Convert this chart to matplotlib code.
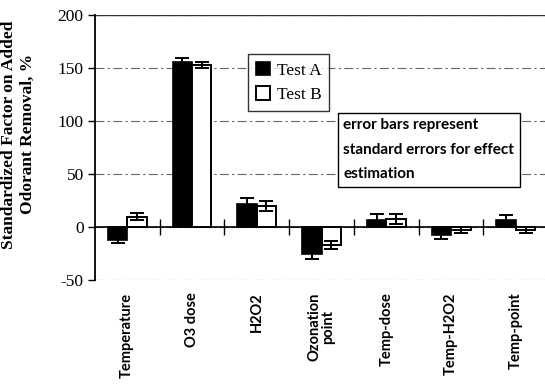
import numpy as np
import matplotlib.pyplot as plt

categories = ["Temperature", "O3 dose", "H2O2", "Ozonation\npoint",
              "Temp-dose", "Temp-H2O2", "Temp-point"]
test_a = [-12, 156, 22, -25, 7, -7, 7]
test_a_err = [3, 4, 5, 5, 5, 4.5, 4.5]
test_b = [10, 153, 20, -17, 7.5, -3, -3]
test_b_err = [3.5, 3, 4.5, 3.5, 4.5, 3, 3]
yticks = [-50, 0, 50, 100, 150, 200]

serif = "Liberation Serif"
sans = "Lato"

fig = plt.figure(figsize=(5.45, 3.89), dpi=100)
ax = fig.add_axes([0.174, 0.28, 0.826, 0.681])

x = np.arange(len(categories))
w = 0.3
err_kw = dict(ecolor="black", elinewidth=1.4, capsize=5, capthick=1.4)
ax.bar(x - w / 2, test_a, w, yerr=test_a_err, color="black",
       edgecolor="black", linewidth=1.2, label="Test A", error_kw=err_kw, zorder=3)
ax.bar(x + w / 2, test_b, w, yerr=test_b_err, color="white",
       edgecolor="black", linewidth=1.4, label="Test B", error_kw=err_kw, zorder=3)

ax.set_xlim(-0.5, 6.45)
ax.set_ylim(-50, 200)
ax.set_yticks(yticks)
ax.set_yticklabels([str(v) for v in yticks], fontfamily=serif, fontsize=12.5)
ax.tick_params(axis="y", direction="out", length=5, width=1, pad=3)

ax.set_xticks(x)
ax.set_xticklabels(categories, rotation=90, fontfamily=sans, fontweight="bold",
                   fontsize=10.5, va="top", ha="center", linespacing=1.0)
ax.tick_params(axis="x", length=0, pad=9)

for s in ["top", "right", "bottom"]:
    ax.spines[s].set_visible(False)
ax.spines["left"].set_linewidth(1.3)

ax.yaxis.grid(True, linestyle=(0, (8, 3, 2, 3)), color="#666666", linewidth=0.8)
ax.set_axisbelow(True)
ax.axhline(0, color="black", linewidth=1.2, zorder=2)
ax.axhline(200, color="#333333", linewidth=1.0, zorder=2)

# zero line with category separator ticks
zero_frac = (0 - yticks[0]) / (yticks[-1] - yticks[0])
sec = ax.secondary_xaxis(zero_frac)
sec.spines["bottom"].set_visible(False)
sec.set_xticks(x[:-1] + 0.5)
sec.tick_params(direction="inout", length=11, width=1, labelbottom=False)

ax.set_ylabel("Standardized Factor on Added\nOdorant Removal, %", fontfamily=serif,
              fontweight="bold", fontsize=12.5, linespacing=1.2)
ax.yaxis.set_label_coords(-0.132, 0.55)

leg = ax.legend(loc="upper left", bbox_to_anchor=(0.34, 0.853), borderaxespad=0,
                frameon=True, fancybox=False, edgecolor="black",
                prop={"family": serif, "size": 12.5}, handlelength=0.8,
                handleheight=0.8, handletextpad=0.4, labelspacing=0.45,
                borderpad=0.45)
leg.get_frame().set_linewidth(1.0)

ax.text(0.552, 0.61, "error bars represent\nstandard errors for effect\nestimation",
        transform=ax.transAxes, fontfamily=sans, fontweight="bold", fontsize=11,
        va="top", ha="left", linespacing=1.95,
        bbox=dict(boxstyle="square,pad=0.35", facecolor="white", edgecolor="black",
                  linewidth=1.0), zorder=5)

fig.savefig("out.png", dpi=100)
